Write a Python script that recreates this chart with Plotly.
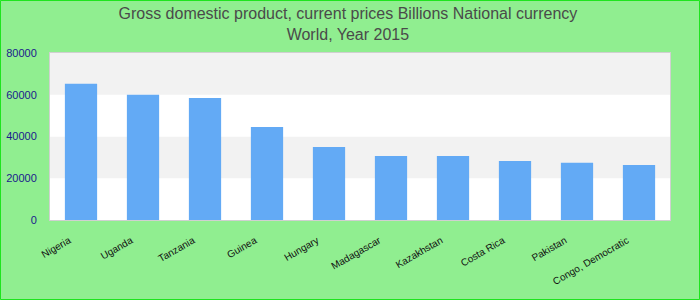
import plotly.graph_objects as go

countries = ["Nigeria", "Uganda", "Tanzania", "Guinea", "Hungary", "Madagascar",
             "Kazakhstan", "Costa Rica", "Pakistan", "Congo, Democratic"]
gdp = [65300, 60000, 58500, 44600, 35000, 30700, 30700, 28300, 27400, 26400]
y_ticks = [0, 20000, 40000, 60000, 80000]
title_lines = ["Gross domestic product, current prices Billions National currency",
               "World, Year 2015"]

W, H = 700, 300
ml, mr, mt, mb = 50, 30, 53, 80
pw, ph = W - ml - mr, H - mt - mb

fig = go.Figure()
fig.add_trace(go.Bar(x=countries, y=gdp, marker=dict(color="#63aaf5", line=dict(width=0))))

shapes = []
# alternating bands
for i in range(len(y_ticks) - 1):
    shapes.append(dict(type="rect", xref="paper", yref="y", x0=0, x1=1,
                       y0=y_ticks[i], y1=y_ticks[i + 1],
                       fillcolor="#f2f2f2" if i % 2 == 1 else "#ffffff",
                       line=dict(width=0), layer="below"))
# outer border
shapes.append(dict(type="rect", xref="paper", yref="paper",
                   x0=(-ml + 0.5) / pw, x1=(pw + mr - 0.5) / pw,
                   y0=(-mb + 0.5) / ph, y1=(ph + mt - 0.5) / ph,
                   line=dict(color="#1ee41e", width=1), fillcolor="rgba(0,0,0,0)", layer="above"))

fig.update_layout(
    width=W, height=H,
    margin=dict(l=ml, r=mr, t=mt, b=mb),
    paper_bgcolor="#90ee90",
    plot_bgcolor="#ffffff",
    font=dict(family="Liberation Sans, Arial, sans-serif"),
    title=dict(text="<br>".join(title_lines), x=0.497, xanchor="center",
               y=1 - 19 / H, yref="container", yanchor="middle",
               font=dict(size=16, color="#4a4a4a")),
    bargap=0.48,
    showlegend=False,
    shapes=shapes,
    xaxis=dict(tickangle=-30, tickfont=dict(size=10, color="#111111"), automargin=False,
               showline=True, linecolor="#d0d0d0", linewidth=1, mirror=True,
               showgrid=False, ticks="", ticklabelstandoff=10, ticklabelshift=-12),
    yaxis=dict(range=[0, 80000], tickvals=y_ticks, tickformat="d", automargin=False,
               tickfont=dict(size=11, color="#1a1a8c"),
               showline=True, linecolor="#d0d0d0", linewidth=1, mirror=True,
               showgrid=False, zeroline=False, ticks="", ticklabelstandoff=10),
)

fig.write_html("out.html")
